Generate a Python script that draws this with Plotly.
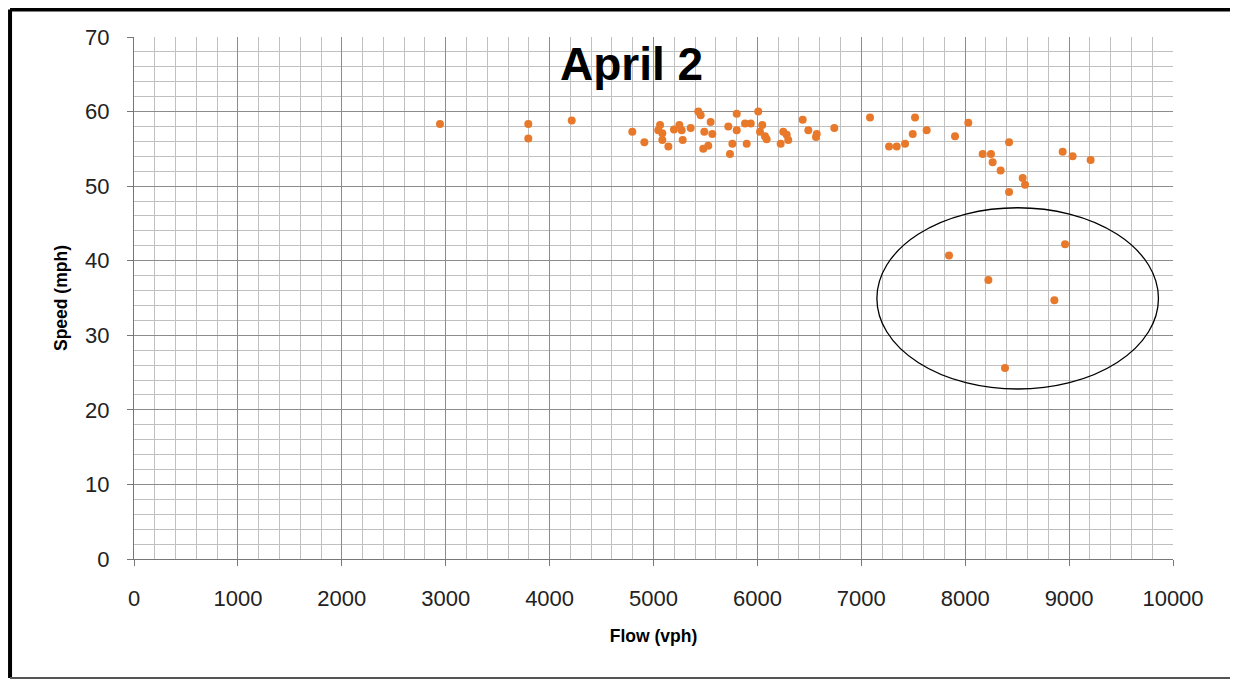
import plotly.graph_objects as go

flow = [2945, 3795, 3795, 4213, 4796, 4912, 5063, 5046, 5085, 5085, 5143, 5197, 5249, 5271, 5281,
        5358, 5431, 5454, 5550, 5489, 5566, 5527, 5479, 5801, 5720, 5801, 5759, 5736, 5881, 5936,
        5897, 6008, 6047, 6025, 6073, 6089, 6249, 6282, 6297, 6224, 6436, 6490, 6571, 6564, 6740,
        7084, 7267, 7341, 7421, 7495, 7517, 7629, 7902, 8030, 8168, 8248, 8264, 8341, 8422, 8553,
        8576, 8422, 8938, 9034, 9207, 7844, 8223, 8961, 8858, 8383]
speed = [58.35, 58.35, 56.4, 58.8, 57.3, 55.9, 58.2, 57.5, 57.1, 56.2, 55.3, 57.6, 58.2, 57.5, 56.2,
         57.8, 60.0, 59.5, 58.6, 57.3, 57.0, 55.4, 55.0, 59.7, 58.0, 57.5, 55.7, 54.3, 58.4, 58.4,
         55.7, 60.0, 58.2, 57.3, 56.7, 56.3, 57.3, 56.9, 56.2, 55.7, 58.9, 57.5, 57.0, 56.6, 57.8,
         59.2, 55.3, 55.3, 55.7, 57.0, 59.2, 57.5, 56.7, 58.5, 54.3, 54.3, 53.2, 52.1, 55.9, 51.1,
         50.2, 49.2, 54.6, 54.0, 53.5, 40.7, 37.4, 42.2, 34.7, 25.6]

x_ticks = [0, 1000, 2000, 3000, 4000, 5000, 6000, 7000, 8000, 9000, 10000]
y_ticks = [0, 10, 20, 30, 40, 50, 60, 70]
title_text = "April 2"
x_title = "Flow (vph)"
y_title = "Speed (mph)"

# highlight ellipse (data units)
ell_x0, ell_x1, ell_y0, ell_y1 = 7150, 9860, 22.8, 47.1

FONT = "Liberation Sans"

fig = go.Figure()
fig.add_trace(go.Scatter(
    x=flow, y=speed, mode="markers",
    marker=dict(color="#E8792B", size=8, line=dict(width=0)),
    showlegend=False, hoverinfo="x+y"))

fig.add_shape(type="circle", xref="x", yref="y",
              x0=ell_x0, x1=ell_x1, y0=ell_y0, y1=ell_y1,
              line=dict(color="black", width=1.3))

# outer frame
L, R, T, B = -0.1193, 1.0577, 1.0527, -0.2282
fig.add_shape(type="line", xref="paper", yref="paper", x0=L, x1=L, y0=B, y1=T,
              line=dict(color="black", width=4))
fig.add_shape(type="line", xref="paper", yref="paper", x0=L, x1=R, y0=T, y1=T,
              line=dict(color="black", width=4))
fig.add_shape(type="line", xref="paper", yref="paper", x0=R, x1=R, y0=B, y1=T,
              line=dict(color="#222", width=3))
fig.add_shape(type="line", xref="paper", yref="paper", x0=L, x1=R, y0=B, y1=B,
              line=dict(color="#555", width=2))

fig.add_annotation(x=4785, y=66.4, xref="x", yref="y", text="<b>" + title_text + "</b>",
                   showarrow=False, font=dict(family=FONT, size=46, color="black"))

fig.update_xaxes(
    range=[0, 10000], tickvals=x_ticks, ticktext=[str(v) for v in x_ticks],
    showgrid=True, gridcolor="#8c8c8c", gridwidth=1,
    minor=dict(dtick=200, showgrid=True, gridcolor="#c0c0c0", gridwidth=1),
    ticks="outside", ticklen=6, tickcolor="#777", ticklabelstandoff=14,
    showline=True, linecolor="#777", linewidth=1,
    zeroline=False,
    tickfont=dict(family=FONT, size=22, color="#222"),
    title=dict(text="<b>" + x_title + "</b>", font=dict(family=FONT, size=17.5, color="black"), standoff=19),
)
fig.update_yaxes(
    range=[0, 70], tickvals=y_ticks, ticktext=[str(v) for v in y_ticks],
    showgrid=True, gridcolor="#8c8c8c", gridwidth=1,
    minor=dict(dtick=2, showgrid=True, gridcolor="#c0c0c0", gridwidth=1),
    ticks="outside", ticklen=6, tickcolor="#777", ticklabelstandoff=13,
    showline=True, linecolor="#777", linewidth=1,
    zeroline=False,
    tickfont=dict(family=FONT, size=22, color="#222"),
    title=dict(text="<b>" + y_title + "</b>", font=dict(family=FONT, size=17.5, color="black"), standoff=12),
)

fig.update_layout(
    width=1230, height=673,
    margin=dict(l=126, r=65, t=29, b=122),
    paper_bgcolor="white", plot_bgcolor="white",
)

fig.write_html("out.html")
